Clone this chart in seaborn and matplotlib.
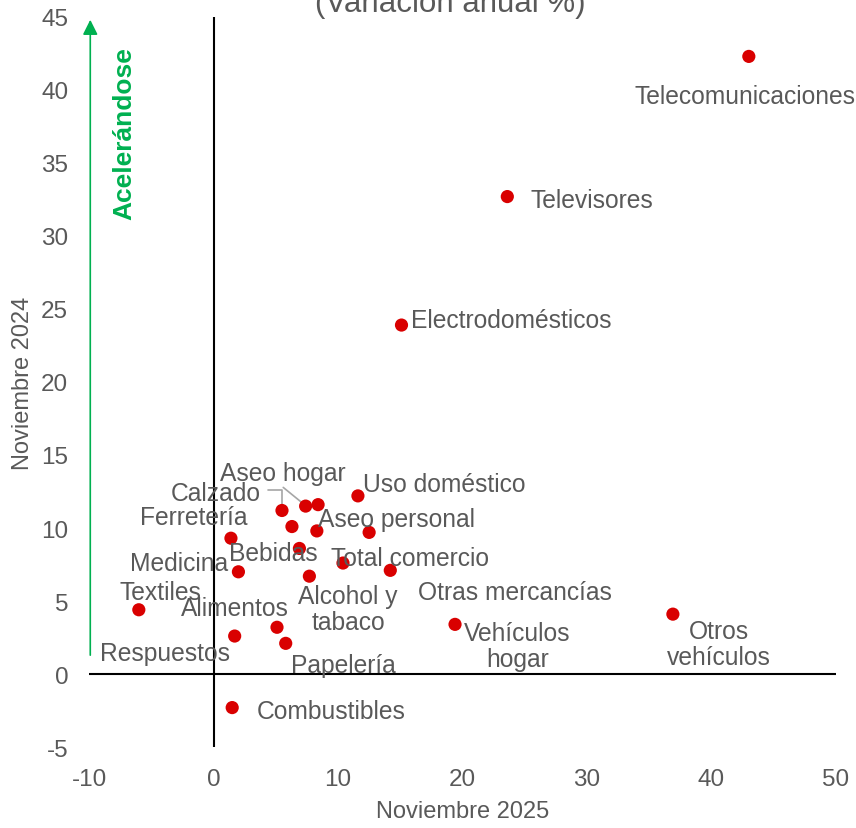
import pandas as pd
import matplotlib.pyplot as plt
import seaborn as sns

# Sector names and annual variation (%) in Nov 2025 (x) and Nov 2024 (y)
sectors = ["Telecomunicaciones", "Televisores", "Electrodomésticos", "Uso doméstico",
           "Aseo personal", "Total comercio", "Otras mercancías", "Calzado", "Aseo hogar",
           "", "", "", "Ferretería", "Bebidas", "Medicina", "Alcohol y tabaco",
           "Textiles", "Alimentos", "Respuestos", "Papelería", "Combustibles",
           "Vehículos hogar", "Otros vehículos"]
nov_2025 = [43.0, 23.6, 15.1, 11.6, 12.5, 10.4, 14.2, 5.5, 7.4,
            8.4, 6.3, 8.3, 1.4, 6.9, 2.0, 7.7,
            -6.0, 5.1, 1.7, 5.8, 1.5, 19.4, 36.9]
nov_2024 = [42.3, 32.7, 23.9, 12.2, 9.7, 7.6, 7.1, 11.2, 11.5,
            11.6, 10.1, 9.8, 9.3, 8.6, 7.0, 6.7,
            4.4, 3.2, 2.6, 2.1, -2.3, 3.4, 4.1]

df = pd.DataFrame({"sector": sectors, "x": nov_2025, "y": nov_2024})

# label placement (text anchor in data coords, horizontal alignment)
label_pos = {
    "Telecomunicaciones": (42.7, 39.8, "center"),
    "Televisores": (25.5, 32.7, "left"),
    "Electrodomésticos": (15.9, 24.45, "left"),
    "Uso doméstico": (12.0, 13.2, "left"),
    "Aseo hogar": (5.6, 14.0, "center"),
    "Calzado": (0.2, 12.6, "center"),
    "Ferretería": (-1.6, 10.96, "center"),
    "Aseo personal": (8.4, 10.8, "left"),
    "Bebidas": (4.8, 8.5, "center"),
    "Total comercio": (15.8, 8.15, "center"),
    "Medicina": (-2.8, 7.8, "center"),
    "Alcohol y tabaco": (10.8, 4.66, "center"),
    "Textiles": (-4.3, 5.8, "center"),
    "Alimentos": (1.7, 4.7, "center"),
    "Otras mercancías": (24.2, 5.8, "center"),
    "Respuestos": (-3.9, 1.64, "center"),
    "Vehículos hogar": (24.4, 2.1, "center"),
    "Papelería": (10.4, 0.8, "center"),
    "Otros vehículos": (40.6, 2.26, "center"),
    "Combustibles": (3.45, -2.3, "left"),
}
two_lines = {"Alcohol y tabaco": "Alcohol y\ntabaco",
             "Vehículos hogar": "Vehículos\nhogar",
             "Otros vehículos": "Otros\nvehículos"}

sns.set_style("white")
plt.rcParams['font.family'] = ['Liberation Sans', 'DejaVu Sans']
plt.rcParams['axes.unicode_minus'] = False

grey = "#595959"
fig = plt.figure(figsize=(8.56, 8.29), dpi=100)
ax = fig.add_axes([0.104, 0.0977, 0.8726, 0.8806])

sns.scatterplot(data=df, x="x", y="y", color="#D90000", s=90, edgecolor="none",
                ax=ax, zorder=3)

ax.set_xlim(-10, 50)
ax.set_ylim(-5, 45)
ax.set_xticks(range(-10, 51, 10))
ax.set_yticks(range(-5, 46, 5))
ax.tick_params(labelsize=17.5, colors=grey, length=0, pad=15)
for s in ax.spines.values():
    s.set_visible(False)

# zero lines
ax.axvline(0, color="black", lw=1.5, zorder=1)
ax.axhline(0, color="black", lw=1.5, zorder=1)

ax.set_xlabel("Noviembre 2025", fontsize=17, color=grey, labelpad=7)
ax.set_ylabel("Noviembre 2024", fontsize=17, color=grey, labelpad=5)

for name, (lx, ly, ha) in label_pos.items():
    ax.annotate(two_lines.get(name, name), (lx, ly), xytext=(0, -2.2),
                textcoords="offset points", ha=ha, va="center",
                fontsize=17.7, color=grey, linespacing=1.1, zorder=4)

# leader lines
ax.plot([4.4, 5.5, 5.5], [12.62, 12.62, 11.6], color="#A6A6A6", lw=1.2, zorder=2)
ax.plot([5.6, 7.3], [12.78, 11.6], color="#A6A6A6", lw=1.2, zorder=2)

# green arrow and label
ax.annotate("", xy=(-9.9, 45), xytext=(-9.9, 1.1),
            arrowprops=dict(arrowstyle="-|>,head_length=0.9,head_width=0.45",
                            color="#00B050", lw=1.2), annotation_clip=False)
ax.text(-7.2, 37.1, "Acelerándose", rotation=90, ha="center", va="center",
        fontsize=19, fontweight="bold", color="#00B050")

fig.text(450 / 856, 1 - 12 / 829, "(Variación anual %)", ha="center", va="baseline",
         fontsize=22.5, color=grey)

plt.savefig("out.png", dpi=100)
